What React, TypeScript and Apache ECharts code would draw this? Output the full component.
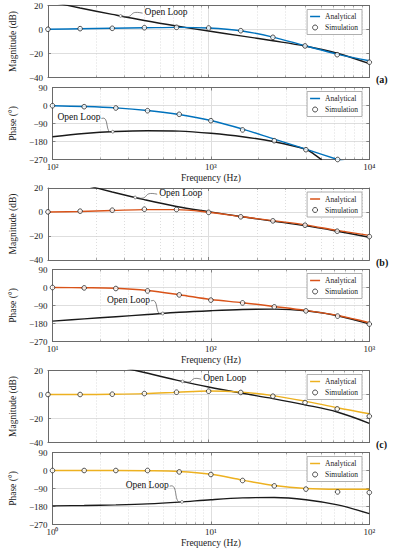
import React, { useEffect, useRef } from 'react';
import * as echarts from 'echarts';

// ---------- data ----------
const freqA = [100, 158.5, 251.2, 398.1, 631, 1000, 1585, 2512, 3981, 6310, 10000];
const freqB = [10, 15.85, 25.12, 39.81, 63.1, 100, 158.5, 251.2, 398.1, 631, 1000];
const freqC = [1, 1.585, 2.512, 3.981, 6.31, 10, 15.85, 25.12, 39.81, 63.1, 100];

const magAnalyticalA = [0.2, 0.6, 1.0, 1.4, 1.8, 1.3, -1.0, -6.3, -13.5, -20.5, -26];
const magSimulationA = [0.2, 0.7, 1.0, 1.5, 1.8, 1.25, -1.0, -6.5, -13.7, -21, -27.3];
const magOpenLoopA = [23.5, 17.9, 12.6, 7.5, 2.9, -1.3, -5.3, -9.4, -13.8, -19.8, -28.5];
const phaseAnalyticalA = [-1, -5, -12, -25, -45, -75, -118, -168, -218, -270, -320];
const phaseSimulationA = [-1, -6, -12.5, -26, -44, -76, -122, -176, -221, -270, null];
const phaseOpenLoopFreqA = [100, 158.5, 251.2, 398.1, 631, 1000, 1585, 2512, 3981, 4467, 5012];
const phaseOpenLoopA = [-156, -140, -130, -126, -128, -139, -156, -181, -219, -243, -272];

const magAnalyticalB = [0, 0.4, 1.2, 2.0, 2.0, -0.2, -3.8, -7.2, -10.7, -15.3, -19.5];
const magSimulationB = [0.1, 0.7, 1.5, 2.3, 2.1, -0.3, -4.0, -7.4, -11, -16, -20.5];
const magOpenLoopB = [30.5, 23.5, 16.7, 10.3, 4.6, 0.3, -3.8, -7.6, -11.4, -16.0, -21];
const phaseAnalyticalB = [0, -1, -4, -15, -36, -60, -76, -95, -115, -140, -176];
const phaseSimulationB = [0, -2, -5, -17, -37, -63, -77, -97, -117, -143, -183];
const phaseOpenLoopB = [-168, -157, -146, -135, -124, -116, -110, -108, -116, -141, -182];

const magAnalyticalC = [0, 0, 0.2, 0.7, 1.8, 2.9, 2.0, -0.9, -5.5, -11, -16];
const magSimulationC = [0, 0, 0.25, 0.8, 1.9, 2.75, 1.7, -1.4, -6.7, -12, -18.1];
const magOpenLoopC = [37.4, 31, 24.7, 18.3, 12, 6.2, 1.2, -3.4, -8.6, -14.6, -24];
const phaseAnalyticalC = [0, 0, 0, -1, -5, -19, -48, -75, -90, -94, -94];
const phaseSimulationC = [0, 0, 0, 0, -7, -20, -50, -77, -93, -107, -110];
const phaseOpenLoopC = [-177, -175, -172, -167, -158, -146, -137, -135, -146, -172, -216];

const magTicks = { min: -40, max: 20, interval: 20 };
const phaseTicks = { min: -270, max: 90, interval: 90 };
const panelLabels = ['(a)', '(b)', '(c)'];
const xRanges = [[100, 10000], [10, 1000], [1, 100]];
const colors = ['#0072BD', '#D95319', '#EDB120'];

// ---------- layout / style ----------
const FONT = 'Liberation Serif';
const gridTops = [5.5, 87.5, 188, 269.5, 370.5, 452.5];
const GRID_H = 72;
const GRID_L = 40.7;
const GRID_R = 24.7;
const AXIS_COLOR = '#6a6a6a';
const SUP = ['⁰', '¹', '²', '³', '⁴', '⁵'];
const LINE_ICON = 'path://M0,0 L40,0 L40,6 L0,6 Z';

type Panel = {
  freq: number[];
  mA: number[]; mS: (number | null)[]; mO: number[]; mOF: number[];
  pA: number[]; pS: (number | null)[]; pO: number[]; pOF: number[];
};
const panels: Panel[] = [
  { freq: freqA, mA: magAnalyticalA, mS: magSimulationA, mO: magOpenLoopA, mOF: freqA,
    pA: phaseAnalyticalA, pS: phaseSimulationA, pO: phaseOpenLoopA, pOF: phaseOpenLoopFreqA },
  { freq: freqB, mA: magAnalyticalB, mS: magSimulationB, mO: magOpenLoopB, mOF: freqB,
    pA: phaseAnalyticalB, pS: phaseSimulationB, pO: phaseOpenLoopB, pOF: freqB },
  { freq: freqC, mA: magAnalyticalC, mS: magSimulationC, mO: magOpenLoopC, mOF: freqC,
    pA: phaseAnalyticalC, pS: phaseSimulationC, pO: phaseOpenLoopC, pOF: freqC },
];

// annotation: tip on the open-loop curve (data coords), squiggle start offset (px), text side
const annotations = [
  { grid: 0, f: 283, v: 11.3, dx: 22, dy: -2.8, side: 'right' },
  { grid: 1, f: 240, v: -131, dx: -11.3, dy: -13.3, side: 'left' },
  { grid: 2, f: 34.9, v: 12.1, dx: 22, dy: -3.3, side: 'right' },
  { grid: 3, f: 49.6, v: -130, dx: -11.7, dy: -12.7, side: 'left' },
  { grid: 4, f: 6.88, v: 10.9, dx: 18.7, dy: -2.3, side: 'right' },
  { grid: 5, f: 6.57, v: -157, dx: -12.3, dy: -15.7, side: 'left' },
];

const zip = (xs: number[], ys: (number | null)[]) => xs.map((x, i) => [x, ys[i]]);

function buildOption() {
  const grid: any[] = [];
  const xAxis: any[] = [];
  const yAxis: any[] = [];
  const series: any[] = [];
  const legend: any[] = [];
  const graphic: any[] = [];

  for (let g = 0; g < 6; g++) {
    const p = Math.floor(g / 2);
    const isPhase = g % 2 === 1;
    const [xmin, xmax] = xRanges[p];
    const ticks = isPhase ? phaseTicks : magTicks;
    grid.push({ left: GRID_L, right: GRID_R, top: gridTops[g], height: GRID_H, show: false });

    const baseX = {
      type: 'log', logBase: 10, gridIndex: g, min: xmin, max: xmax,
      axisLine: { show: true, onZero: false, lineStyle: { color: AXIS_COLOR, width: 1 } },
      axisTick: { show: true, inside: true, length: 3, lineStyle: { color: AXIS_COLOR, width: 0.8 } },
      minorTick: { show: true, splitNumber: 9, length: 2, lineStyle: { color: AXIS_COLOR, width: 0.6 } },
    };
    xAxis.push({
      ...baseX, position: 'bottom',
      axisLabel: {
        show: isPhase, fontSize: 9, margin: 3, color: '#222', fontFamily: FONT,
        formatter: (v: number) => '10' + SUP[Math.round(Math.log10(v)) | 0],
      },
      splitLine: { show: true, lineStyle: { color: '#dedede', width: 1 } },
      minorSplitLine: { show: true, lineStyle: { color: '#cfcfcf', width: 0.7, type: [1, 2] } },
      name: isPhase ? 'Frequency (Hz)' : '', nameLocation: 'middle', nameGap: 13,
      nameTextStyle: { fontSize: 9.5, fontFamily: FONT, color: '#222' },
    });
    xAxis.push({
      ...baseX, position: 'top', axisLabel: { show: false },
      splitLine: { show: false }, minorSplitLine: { show: false },
    });

    const baseY = {
      type: 'value', gridIndex: g, min: ticks.min, max: ticks.max, interval: ticks.interval,
      axisLine: { show: true, onZero: false, lineStyle: { color: AXIS_COLOR, width: 1 } },
      axisTick: { show: true, inside: true, length: 3, lineStyle: { color: AXIS_COLOR, width: 0.8 } },
    };
    yAxis.push({
      ...baseY, position: 'left',
      axisLabel: {
        fontSize: 9, margin: 5, color: '#222', fontFamily: FONT,
        formatter: (v: number) => String(v).replace('-', '−'),
      },
      splitLine: { show: true, lineStyle: { color: '#dedede', width: 1 } },
      name: isPhase ? 'Phase (°)' : 'Magnitude (dB)', nameLocation: 'middle', nameGap: 26,
      nameTextStyle: { fontSize: 9.5, fontFamily: FONT, color: '#222' },
    });
    yAxis.push({ ...baseY, position: 'right', axisLabel: { show: false }, splitLine: { show: false } });

    const pd = panels[p];
    const xi = g * 2, yi = g * 2;
    series.push({
      name: 'Open Loop', type: 'line', xAxisIndex: xi, yAxisIndex: yi, symbol: 'none', smooth: 0.35,
      lineStyle: { color: '#1a1a1a', width: 1.4 }, itemStyle: { color: '#1a1a1a' }, z: 3, clip: true,
      data: isPhase ? zip(pd.pOF, pd.pO) : zip(pd.mOF, pd.mO),
    });
    series.push({
      name: 'Analytical', type: 'line', xAxisIndex: xi, yAxisIndex: yi, symbol: 'none', smooth: 0.35,
      lineStyle: { color: colors[p], width: 1.4 }, itemStyle: { color: colors[p] }, z: 4, clip: true,
      data: isPhase ? zip(pd.freq, pd.pA) : zip(pd.freq, pd.mA),
    });
    series.push({
      name: 'Simulation', type: 'scatter', xAxisIndex: xi, yAxisIndex: yi, symbol: 'circle', symbolSize: 4.6,
      itemStyle: { color: '#ffffff', borderColor: '#222', borderWidth: 1 }, z: 5, clip: true,
      data: (isPhase ? zip(pd.freq, pd.pS) : zip(pd.freq, pd.mS)).filter((d) => d[1] !== null),
    });

    legend.push({
      show: true, orient: 'vertical', right: 32, top: gridTops[g] + 4, selectedMode: false,
      itemWidth: 10, itemHeight: 5, itemGap: 3, padding: [3, 4, 3, 3],
      borderColor: '#9a9a9a', borderWidth: 0.8, borderRadius: 0, backgroundColor: '#ffffff',
      textStyle: { fontSize: 7.5, fontFamily: FONT, color: '#222' },
      data: [
        { name: 'Analytical', icon: LINE_ICON, itemStyle: { color: colors[p], borderWidth: 0 } },
        { name: 'Simulation', icon: 'circle', itemStyle: { color: '#ffffff', borderColor: '#222', borderWidth: 1 } },
      ],
    });
  }

  panelLabels.forEach((t, p) => {
    graphic.push({
      type: 'text', id: 'lab' + p, left: 376, top: gridTops[p * 2] + GRID_H - 3,
      style: { text: t, fontFamily: FONT, fontSize: 10, fontWeight: 'bold', fill: '#111' },
    });
  });

  return {
    animation: false, backgroundColor: '#ffffff',
    textStyle: { fontFamily: FONT },
    grid, xAxis, yAxis, series, legend, graphic,
  };
}

export default function App() {
  const ref = useRef<HTMLDivElement>(null);
  useEffect(() => {
    if (!ref.current) return;
    const chart = echarts.init(ref.current, undefined, { renderer: 'svg' });
    chart.setOption(buildOption());
    const extra: any[] = [];
    annotations.forEach((a, i) => {
      const pd = (chart as any).convertToPixel({ xAxisIndex: a.grid * 2, yAxisIndex: a.grid * 2 }, [a.f, a.v]);
      if (!pd) return;
      const [tx, ty] = pd;
      const sx = tx + a.dx, sy = ty + a.dy;
      extra.push({
        type: 'bezierCurve', id: 'sq' + i, z: 20,
        shape: {
          x1: sx, y1: sy, x2: tx, y2: ty,
          cpx1: sx + (tx - sx) * 0.75, cpy1: sy - 3.5,
          cpx2: sx + (tx - sx) * 0.25, cpy2: ty + 3.5,
        },
        style: { stroke: '#555', lineWidth: 0.7, fill: null },
      });
      extra.push({
        type: 'circle', id: 'tip' + i, z: 21, shape: { cx: tx, cy: ty, r: 1.4 },
        style: { stroke: '#555', lineWidth: 0.7, fill: '#fff' },
      });
      extra.push({
        type: 'text', id: 'ol' + i, z: 21,
        x: a.side === 'right' ? sx + 2 : sx - 1, y: sy - 1,
        style: {
          text: 'Open Loop', fontFamily: FONT, fontSize: 9.5, fill: '#111',
          align: a.side === 'right' ? 'left' : 'right', verticalAlign: 'middle',
        },
      });
    });
    chart.setOption({ graphic: extra });
    return () => chart.dispose();
  }, []);
  return (
    <div
      ref={ref}
      style={{ position: 'fixed', left: 0, top: 0, width: 394, height: 550, background: '#fff' }}
    />
  );
}
